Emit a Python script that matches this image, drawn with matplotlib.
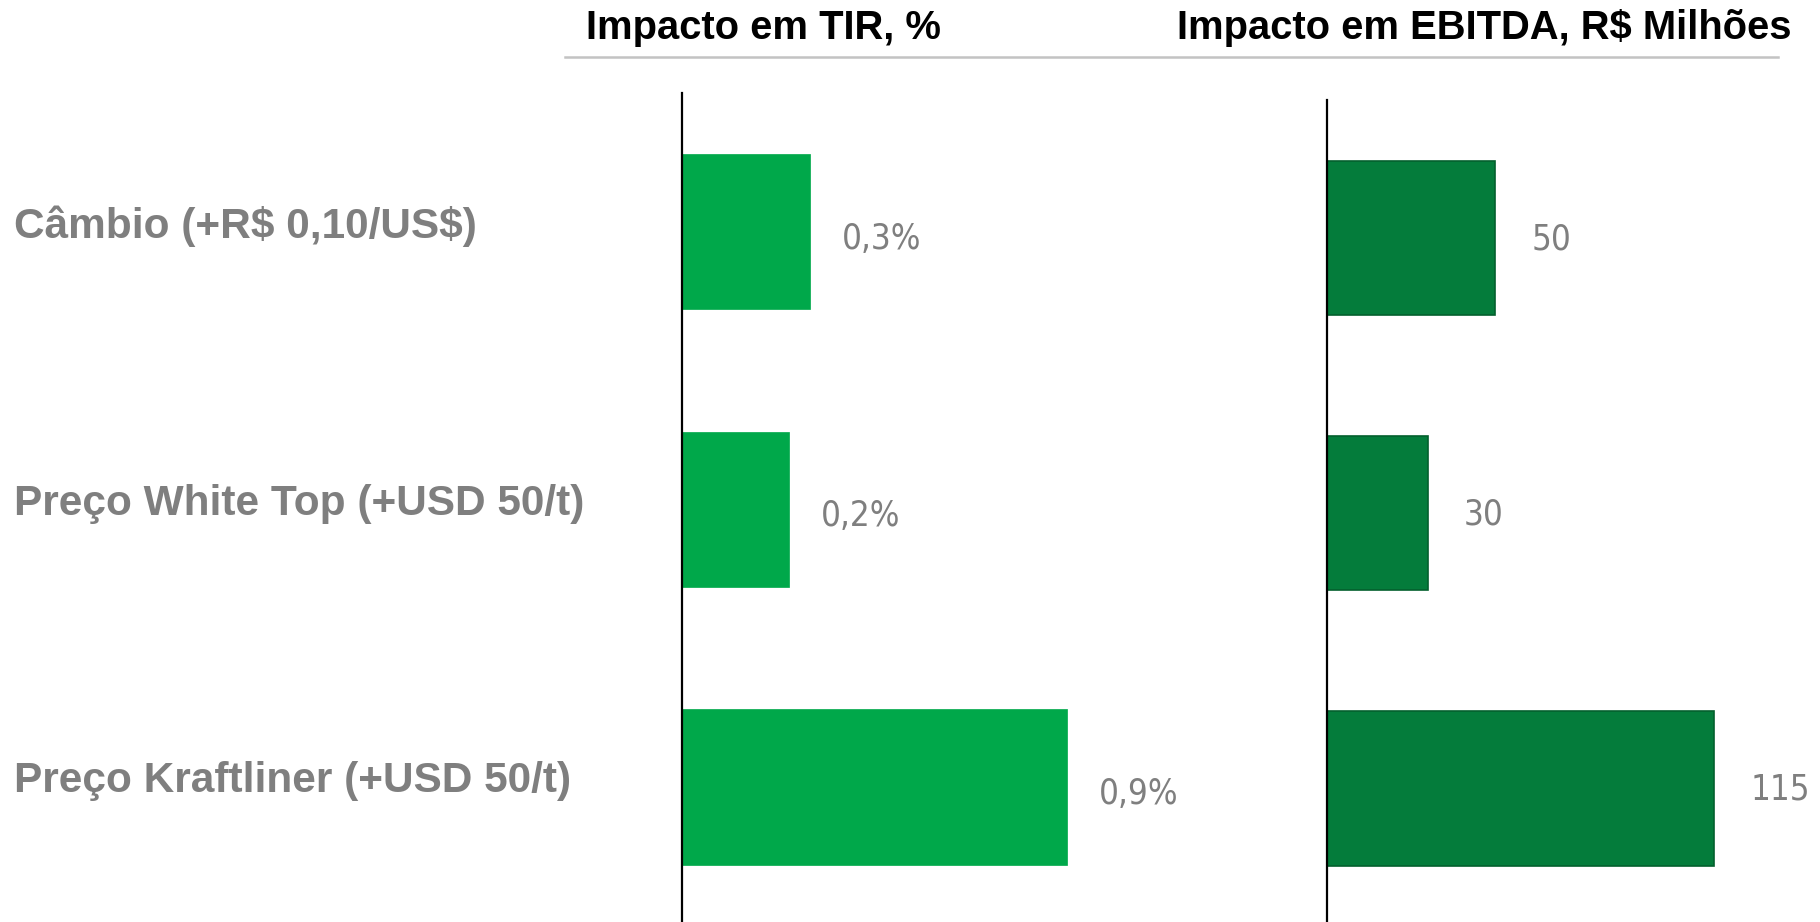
import matplotlib
matplotlib.use('Agg')
import matplotlib.pyplot as plt
from matplotlib import font_manager
from matplotlib.lines import Line2D
from matplotlib.transforms import blended_transform_factory

# data
categories = ['Câmbio (+R\\$ 0,10/US\\$)',
              'Preço White Top (+USD 50/t)',
              'Preço Kraftliner (+USD 50/t)']
tir_values = [0.30, 0.25, 0.90]          # bar lengths, %
tir_labels = ['0,3%', '0,2%', '0,9%']
ebitda_values = [50, 30, 115]            # R$ milhões
ebitda_labels = ['50', '30', '115']

titles = ['Impacto em TIR, %', 'Impacto em EBITDA, R\\$ Milhões']

W, H = 1820, 922
fig = plt.figure(figsize=(W / 100, H / 100), dpi=100)
fig.patch.set_facecolor('white')

installed = {f.name for f in font_manager.fontManager.ttflist}
num_font = 'DejaVu Sans'
for cand in ['Liberation Sans Narrow', 'DejaVu Sans Condensed']:
    if cand in installed:
        num_font = cand
        break
txt_font = 'Liberation Sans' if 'Liberation Sans' in installed else 'DejaVu Sans'

gray_txt = '#7f7f7f'


def px_axes(x0, y0, x1, y1):
    # pixel box (top-left origin) -> figure fraction axes
    return fig.add_axes([x0 / W, 1 - y1 / H, (x1 - x0) / W, (y1 - y0) / H])


#%% left panel: TIR
ax1 = px_axes(682, 93, 1300, 922)
ax1.barh(range(len(categories)), tir_values, height=0.56, color='#00a84a',
         edgecolor='#00a84a', linewidth=0.5)
ax1.set_xlim(0, 618 / 428)
ax1.set_ylim(2.487, -0.5)
for i, (v, lab) in enumerate(zip(tir_values, tir_labels)):
    ax1.annotate(lab, (v, i), xytext=(23, -5), textcoords='offset points',
                 va='center', ha='left', fontsize=25, color=gray_txt,
                 family=num_font, fontstretch='condensed')

#%% right panel: EBITDA
ax2 = px_axes(1327, 100, W, 922)
ax2.barh(range(len(categories)), ebitda_values, height=0.56, color='#047c3b',
         edgecolor='#03602d', linewidth=1.2)
ax2.set_xlim(0, (W - 1327) / 3.365)
ax2.set_ylim(2.485, -0.5)
for i, (v, lab) in enumerate(zip(ebitda_values, ebitda_labels)):
    ax2.annotate(lab, (v, i), xytext=(26, -1), textcoords='offset points',
                 va='center', ha='left', fontsize=25, color=gray_txt,
                 family=num_font, fontstretch='condensed')

for ax in (ax1, ax2):
    for s in ['top', 'right', 'bottom']:
        ax.spines[s].set_visible(False)
    ax.spines['left'].set_color('black')
    ax.spines['left'].set_linewidth(1.6)
    ax.set_xticks([])
    ax.set_yticks([])
    ax.patch.set_alpha(0)

# category names on the left
trans = blended_transform_factory(fig.transFigure, ax1.transData)
for i, c in enumerate(categories):
    ax1.text(14 / W, i - 0.02, c, transform=trans, ha='left', va='center',
             fontsize=30.5, fontweight='bold', color=gray_txt, family=txt_font,
             clip_on=False)

# column headers + rule
fig.text(586 / W, 1 - 39 / H, titles[0], ha='left', va='baseline',
         fontsize=28.8, fontweight='bold', color='black', family=txt_font)
fig.text(1177 / W, 1 - 39 / H, titles[1], ha='left', va='baseline',
         fontsize=28.8, fontweight='bold', color='black', family=txt_font)
fig.add_artist(Line2D([565 / W, 1778 / W], [1 - 57 / H, 1 - 57 / H],
                      transform=fig.transFigure, color='#c3c3c3', lw=1.8))

plt.savefig('out.png', dpi=100, facecolor='white')
